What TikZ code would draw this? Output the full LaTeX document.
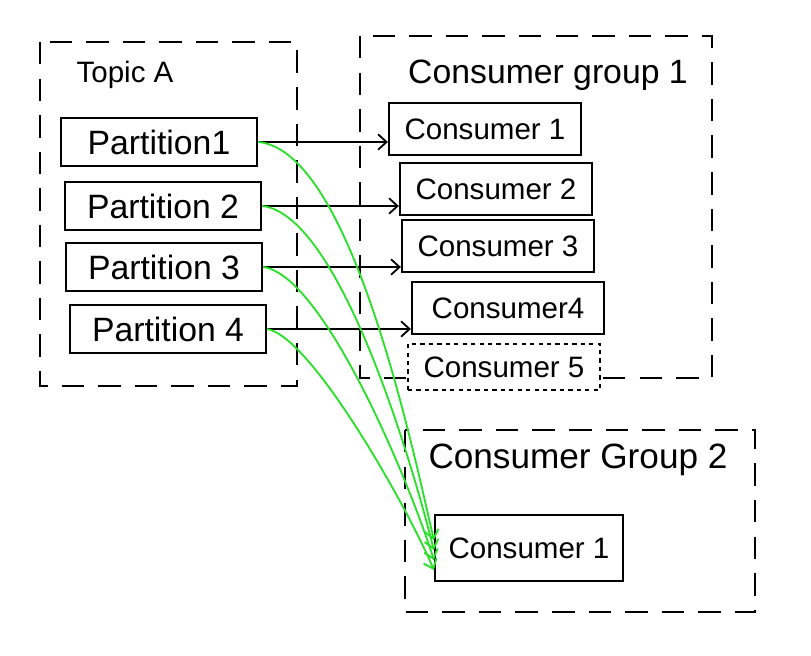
\documentclass[tikz,border=0pt]{standalone}
\usepackage{fontspec}
\setmainfont{Liberation Sans}
\usetikzlibrary{arrows.meta}
\definecolor{feedgreen}{RGB}{40,225,40}
\tikzset{
  groupbox/.style={draw, line width=1.6pt, dash pattern=on 16pt off 10pt},
  partbox/.style={draw, line width=1.6pt, minimum width=4.9cm, minimum height=1.2cm,
    font=\fontsize{24}{28}\selectfont},
  consbox/.style={draw, line width=1.6pt, minimum width=4.8cm, minimum height=1.3cm,
    font=\fontsize{21}{25}\selectfont},
  grouplabel/.style={font=\fontsize{24}{28}\selectfont},
  plain arrow/.style={line width=1.3pt, -{Straight Barb[length=6pt,width=11pt]}},
  green arrow/.style={feedgreen, line width=1.3pt, -{Straight Barb[length=6pt,width=10pt]}}
}
\begin{document}
\begin{tikzpicture}[x=0.025cm,y=-0.025cm]
  \useasboundingbox (0,0) rectangle (811,656);
  % dashed group frames
  \draw[groupbox] (40,42) rectangle (297,386);
  \draw[groupbox] (360,36) rectangle (712,378);
  \draw[groupbox] (405,430) rectangle (755,612);
  \node[font=\fontsize{21}{25}\selectfont] (topic) at (125,75) {Topic A};
  \node[grouplabel] (grp1) at (548,75) {Consumer group 1};
  \node[grouplabel, font=\fontsize{25}{29}\selectfont] (grp2) at (578,460) {Consumer Group 2};
  % partitions of the topic
  \foreach [count=\i] \x/\y/\lab in {159/142/Partition1, 163/206/Partition 2,
      164/267/Partition 3, 168/329/Partition 4} {
    \node[partbox] (p\i) at (\x,\y) {\lab};
  }
  % consumers of group 1
  \foreach [count=\i] \x/\y/\lab in {485/129/Consumer 1, 496/189/Consumer 2,
      498/246/Consumer 3, 508/308/Consumer4} {
    \node[consbox] (c\i) at (\x,\y) {\lab};
  }
  \node[consbox, dashed, fill=white, minimum height=1.15cm, line width=1.2pt] (c5) at (504,367) {Consumer 5};
  % the single consumer of group 2
  \node[consbox, minimum width=4.7cm, minimum height=1.65cm] (g2c) at (529,548) {Consumer 1};
  % one partition per consumer in group 1
  \foreach \i in {1,...,4}
    \draw[plain arrow] (p\i.east) -- (c\i.west |- p\i.east);
  % all partitions go to group 2
  \foreach \i/\s/\a/\b in {1/0.2/90/-110, 2/-0.05/75/-100, 3/-0.3/60/-80, 4/-0.55/45/-60} {
    \draw[green arrow] (p\i.east) .. controls +(\a,8) and +(-25,\b) .. ([yshift=\s cm]g2c.west);
  }
\end{tikzpicture}
\end{document}
